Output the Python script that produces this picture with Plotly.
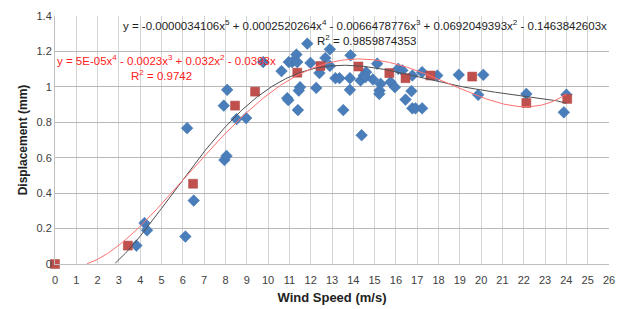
import numpy as np
import plotly.graph_objects as go

# Blue measured points
blue_x = [3.82, 4.20, 4.32, 6.12, 6.51, 7.95, 8.05, 6.20, 7.92, 8.08, 8.52, 8.97, 9.77,
          10.63, 10.90, 10.95, 11.40, 11.50, 11.44, 11.33, 10.97, 11.13, 11.37, 11.84,
          11.99, 12.26, 12.41, 12.69, 12.90, 12.90, 13.16, 13.35, 13.53, 13.84, 13.84,
          13.87, 14.39, 14.34, 14.49, 14.60, 14.57, 14.92, 15.12, 15.28, 15.23, 15.22,
          15.75, 15.95, 16.11, 16.30, 16.45, 16.73, 16.77, 16.92, 17.23, 16.77, 17.23,
          17.94, 18.95, 20.10, 19.86, 22.12, 24.00, 23.88]
blue_y = [0.104, 0.231, 0.190, 0.155, 0.358, 0.587, 0.610, 0.767, 0.894, 0.983, 0.818, 0.824, 1.140,
          1.089, 0.936, 0.925, 0.869, 0.998, 0.979, 1.182, 1.140, 1.140, 1.140, 1.244,
          1.135, 0.994, 1.078, 1.163, 1.212, 1.118, 1.049, 1.049, 0.869, 1.049, 0.983,
          1.178, 0.727, 1.036, 1.064, 1.083, 1.055, 1.042, 1.131, 1.017, 0.979, 0.960,
          1.027, 0.998, 1.102, 1.093, 0.928, 0.976, 0.879, 0.879, 0.879, 1.064, 1.083,
          1.064, 1.068, 1.068, 0.955, 0.960, 0.956, 0.856]

# Red averaged points
red_x = [0.0, 3.42, 6.48, 8.45, 9.39, 11.37, 12.46, 14.24, 15.69, 16.45, 17.62, 19.58, 22.12, 24.04]
red_y = [0.0, 0.104, 0.453, 0.894, 0.973, 1.080, 1.118, 1.115, 1.078, 1.049, 1.064, 1.058, 0.909, 0.932]

# Black trendline coefficients (x^5 .. x^1), from the chart's equation
black_coef = [-0.0000034106, 0.0002520264, -0.0066478776, 0.0692049393, -0.1463842603]

x_ticks = list(range(0, 27))
y_ticks = [0, 0.2, 0.4, 0.6, 0.8, 1.0, 1.2, 1.4]
y_tick_text = ["0", "0.2", "0.4", "0.6", "0.8", "1", "1.2", "1.4"]

# Black polynomial curve
xb = np.linspace(0, 24, 400)
yb = sum(c * xb ** (5 - i) for i, c in enumerate(black_coef))
yb = np.where(yb < 0, np.nan, yb)

# Red curve: 4th-order fit through origin on red points
rx = np.array(red_x)
ry = np.array(red_y)
A = np.vstack([rx ** 4, rx ** 3, rx ** 2, rx]).T
rc, *_ = np.linalg.lstsq(A, ry, rcond=None)
xr = np.linspace(0, 24, 400)
yr = rc[0] * xr ** 4 + rc[1] * xr ** 3 + rc[2] * xr ** 2 + rc[3] * xr
yr = np.where(yr < 0, np.nan, yr)

fig = go.Figure()
fig.add_trace(go.Scatter(x=blue_x, y=blue_y, mode="markers", cliponaxis=False,
                         marker=dict(symbol="diamond", size=9, color="#4a7ebb",
                                     line=dict(width=0.5, color="#3f70ab"))))
fig.add_trace(go.Scatter(x=red_x, y=red_y, mode="markers", cliponaxis=False,
                         marker=dict(symbol="square", size=9, color="#c0504d",
                                     line=dict(width=0.5, color="#b04542"))))
fig.add_trace(go.Scatter(x=xb, y=yb, mode="lines", line=dict(color="#505050", width=1)))
fig.add_trace(go.Scatter(x=xr, y=yr, mode="lines", line=dict(color="#ff7070", width=1)))

font = "Liberation Sans Narrow, Liberation Sans, Arial"

fig.add_annotation(x=1.0, y=0.965, xref="paper", yref="paper", xanchor="right", yanchor="middle",
                   showarrow=False,
                   text="y = -0.0000034106x<sup>5</sup> + 0.0002520264x<sup>4</sup> - 0.0066478776x<sup>3</sup> + 0.0692049393x<sup>2</sup> - 0.1463842603x",
                   font=dict(size=11.5, color="#222222", family=font))
fig.add_annotation(x=14.6, y=1.264, xref="x", yref="y", xanchor="center", yanchor="middle",
                   showarrow=False, text="R<sup>2</sup> = 0.9859874353",
                   font=dict(size=11.5, color="#222222", family=font))
fig.add_annotation(x=0.0, y=1.151, xref="paper", yref="y", xanchor="left", yanchor="middle",
                   showarrow=False,
                   text="y = 5E-05x<sup>4</sup> - 0.0023x<sup>3</sup> + 0.032x<sup>2</sup> - 0.0393x",
                   font=dict(size=11.5, color="#ff2020", family=font))
fig.add_annotation(x=5.0, y=1.066, xref="x", yref="y", xanchor="center", yanchor="middle",
                   showarrow=False, text="R<sup>2</sup> = 0.9742",
                   font=dict(size=11.5, color="#ff2020", family=font))

fig.update_layout(
    width=619, height=309,
    margin=dict(l=55, r=10, t=16, b=45, autoexpand=False),
    paper_bgcolor="white", plot_bgcolor="white",
    showlegend=False,
    font=dict(family=font, size=10, color="#404040"),
)
fig.update_xaxes(range=[0, 26], tickvals=x_ticks, ticktext=[str(t) for t in x_ticks],
                 automargin=False,
                 showgrid=True, gridcolor="#d4d4d4", gridwidth=1, zeroline=False,
                 showline=True, linecolor="#bfbfbf", ticks="", ticklabelstandoff=6,
                 tickfont=dict(size=11, color="#404040"),
                 title=dict(text="<b>Wind Speed (m/s)</b>", font=dict(size=13, color="#222222"), standoff=7))
fig.update_yaxes(range=[0, 1.4], tickvals=y_ticks, ticktext=y_tick_text,
                 automargin=False,
                 showgrid=True, gridcolor="#b8b8b8", gridwidth=1, zeroline=False,
                 showline=True, linecolor="#bfbfbf", ticks="",
                 tickfont=dict(size=11, color="#404040"),
                 title=dict(text="<b>Displacement (mm)</b>", font=dict(size=12, color="#222222"), standoff=6))

fig.write_html("out.html", config={"displayModeBar": False},
               post_script="document.body.style.margin='0';")
